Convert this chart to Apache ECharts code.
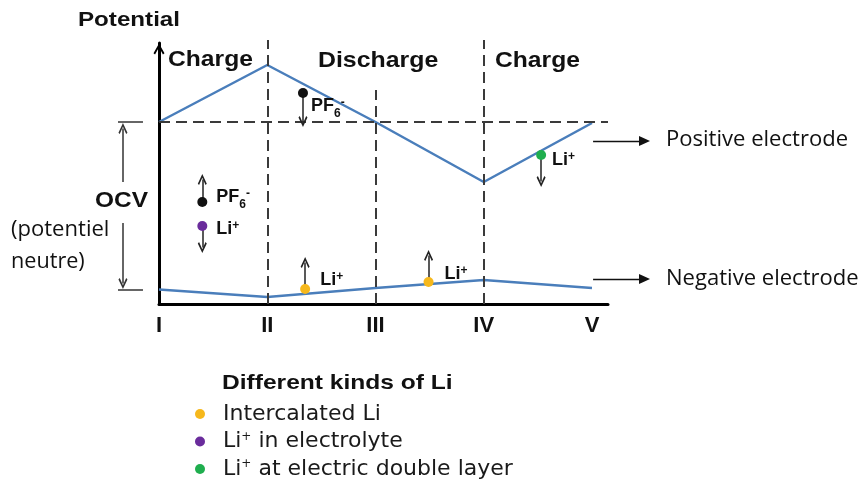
<!DOCTYPE html>
<html><head><meta charset="utf-8">
<script src="https://cdn.jsdelivr.net/npm/echarts@6/dist/echarts.min.js"></script>
<style>html,body{margin:0;padding:0;background:#fff}#c{width:861px;height:488px}</style>
</head><body><div id="c"></div>
<script>
// ---- data ----
const phaseLabels = ['I', 'II', 'III', 'IV', 'V'];
const phaseX = [0, 1, 2, 3, 4];
const positiveElectrode = [182, 239, 182, 122, 181];
const negativeElectrode = [14.5, 7, 16, 24, 16];
const intercalatedLi = [[1.35, 15], [2.49, 22]];
const electrolyteLi = [[0.40, 78]];
const doubleLayerLi = [[3.53, 149]];
const pf6Anions = [[1.33, 211], [0.40, 102]];
// ion movement arrows: [from, tip]
const ionArrows = [
  [[1.33, 211], [1.33, 177]],
  [[0.40, 102], [0.40, 130]],
  [[0.40, 78], [0.40, 51]],
  [[1.35, 15], [1.35, 47]],
  [[2.49, 22], [2.49, 54]],
  [[3.53, 149], [3.53, 117]]
];
const ocvLevel = 182;
const guideVerticalTops = [[1, 264], [2, 214], [3, 264]];
const ocvBracketBar = [-0.379, -0.148];
const ocvArrows = [[[-0.333, 122], [-0.333, 181]], [[-0.333, 81], [-0.333, 15]]];
const electrodePointerX = [4.01, 4.536];
const electrodePointerY = [163, 25];
const legendNames = ['Intercalated Li', 'Li+ in electrolyte', 'Li+ at electric double layer'];

// ---- layout ----
const W = 861, H = 488;
const G = { left: 159, top: 43, right: 608, bottom: 304 };
const unitX = (592 - 159) / 4;
const xMax = (G.right - G.left) / unitX;
const yMax = G.bottom - G.top;
const CHEV = 'path://M6,0 L12,10.5 L10.3,12 L6,4 L1.7,12 L0,10.5 Z';
const BLUE = '#4a7ebb';
const FONT = 'Liberation Sans';
const dot = { yellow: '#f6b81c', purple: '#6a2c9c', green: '#1fae4e', black: '#111' };

const chart = echarts.init(document.getElementById('c'), null, { renderer: 'canvas' });

function arrowItem(from, tip, opts) {
  const half = opts.half;
  const dx = tip[0] - from[0], dy = tip[1] - from[1];
  const len = Math.hypot(dx * (opts.sx || 1), dy) / (opts.sx || 1) * (opts.sx ? 1 : 1);
  const lenU = Math.hypot(dx, dy);
  const k = (lenU - half) / lenU;
  const end = [from[0] + dx * k, from[1] + dy * k];
  return [
    { coord: from, symbol: 'none', lineStyle: opts.line },
    { coord: end, symbol: opts.symbol || CHEV, symbolSize: opts.size || [9, 11] }
  ];
}
function segItem(a, b, line) {
  return [{ coord: a, symbol: 'none', lineStyle: line }, { coord: b, symbol: 'none' }];
}
const dashed = { color: '#3a3a3a', width: 2, type: [11, 6] };
const thin = { color: '#222', width: 1.5, type: 'solid' };
const bracket = { color: '#333', width: 1.5, type: 'solid' };
const pointer = { color: '#111', width: 1.3, type: 'solid' };

const guideData = [segItem([0, ocvLevel], [xMax, ocvLevel], dashed)]
  .concat(guideVerticalTops.map(p => segItem([p[0], 0], [p[0], p[1]], dashed)));
const ionArrowData = ionArrows.map(a => arrowItem(a[0], a[1], { half: 5.5, line: thin }));
const ocvData = [
  segItem([ocvBracketBar[0], ocvLevel], [ocvBracketBar[1], ocvLevel], bracket),
  segItem([ocvBracketBar[0], negativeElectrode[0]], [ocvBracketBar[1], negativeElectrode[0]], bracket)
].concat(ocvArrows.map(a => arrowItem(a[0], a[1], { half: 5.5, line: bracket })));
const pointerData = electrodePointerY.map(y => arrowItem([electrodePointerX[0], y], [electrodePointerX[1], y],
  { half: 5.5 / unitX, line: pointer, symbol: 'triangle', size: [10, 11] }));

const richLbl = {
  b: { fontFamily: FONT, fontWeight: 'bold', fontSize: 18, color: '#111', lineHeight: 22, verticalAlign: 'top' },
  sub: { fontFamily: FONT, fontWeight: 'bold', fontSize: 12, color: '#111', lineHeight: 12, verticalAlign: 'top', padding: [11, 0, 0, 0] },
  sup: { fontFamily: FONT, fontWeight: 'bold', fontSize: 12, color: '#111', lineHeight: 12, verticalAlign: 'top' }
};
const liLabel = '{b|Li}{sup|+}';
const pfLabel = '{b|PF}{sub|6}{sup|-}';

function scatterSeries(name, data, color, labelText, offsets) {
  return {
    type: 'scatter', name, xAxisIndex: 0, yAxisIndex: 0, z: 5,
    symbolSize: 10, itemStyle: { color, opacity: 1 },
    data: data.map((v, i) => ({
      value: v,
      label: { show: true, position: 'right', distance: 4, offset: offsets[i], formatter: labelText, rich: richLbl }
    })),
    emphasis: { disabled: true }, silent: true
  };
}

function txt(text, x, y, size, bold, sx, family) {
  return {
    type: 'text', x, y, scaleX: sx || 1, silent: true,
    style: { text, fontFamily: family || FONT, fontSize: size, fontWeight: bold ? 'bold' : 'normal',
             fill: '#111', align: 'left', verticalAlign: 'middle' }
  };
}

const option = {
  animation: false,
  backgroundColor: '#fff',
  grid: [
    { left: G.left, top: G.top, right: W - G.right, bottom: H - G.bottom },
    { left: 0, top: 0, right: 0, bottom: 0 }
  ],
  xAxis: [
    {
      type: 'value', gridIndex: 0, min: 0, max: xMax, interval: 1,
      axisLine: { show: true, onZero: false, lineStyle: { color: '#000', width: 3 } },
      axisTick: { show: false }, splitLine: { show: false },
      axisLabel: {
        margin: 11, color: '#111', fontFamily: FONT, fontWeight: 'bold', fontSize: 22,
        showMaxLabel: false,
        formatter: v => (Math.abs(v - Math.round(v)) < 1e-6 && phaseLabels[Math.round(v)]) || ''
      }
    },
    { type: 'value', gridIndex: 1, min: -G.left / unitX, max: (W - G.left) / unitX, show: false }
  ],
  yAxis: [
    {
      type: 'value', gridIndex: 0, min: 0, max: yMax,
      axisLine: { show: true, onZero: false, lineStyle: { color: '#000', width: 3 },
                  symbol: ['none', CHEV], symbolSize: [11, 12], symbolOffset: [0, -6] },
      axisTick: { show: false }, axisLabel: { show: false }, splitLine: { show: false }
    },
    { type: 'value', gridIndex: 1, min: -(H - G.bottom), max: G.bottom, show: false }
  ],
  legend: {
    orient: 'vertical', left: 195, top: 403, padding: 0, itemGap: 5.5,
    itemWidth: 36, itemHeight: 10, icon: 'circle', selectedMode: false,
    data: legendNames,
    formatter: n => n.replace('Li+', 'Li{sup|+}'),
    textStyle: {
      fontFamily: 'DejaVu Sans', fontSize: 22, color: '#1a1a1a', lineHeight: 22,
      rich: { sup: { fontFamily: 'DejaVu Sans', fontSize: 12, lineHeight: 12, verticalAlign: 'top', color: '#1a1a1a' } }
    }
  },
  series: [
    {
      type: 'line', xAxisIndex: 1, yAxisIndex: 1, data: [], z: 1, silent: true,
      markLine: { silent: true, animation: false, label: { show: false }, emphasis: { disabled: true },
        data: guideData.concat(ocvData, pointerData) }
    },
    {
      type: 'line', name: 'Positive electrode', xAxisIndex: 0, yAxisIndex: 0, z: 3, symbol: 'none',
      lineStyle: { color: BLUE, width: 2.5 }, silent: true,
      data: phaseX.map((x, i) => [x, positiveElectrode[i]])
    },
    {
      type: 'line', name: 'Negative electrode', xAxisIndex: 0, yAxisIndex: 0, z: 3, symbol: 'none',
      lineStyle: { color: BLUE, width: 2.5 }, silent: true,
      data: phaseX.map((x, i) => [x, negativeElectrode[i]])
    },
    {
      type: 'line', xAxisIndex: 0, yAxisIndex: 0, data: [], z: 4, silent: true,
      markLine: { silent: true, animation: false, label: { show: false }, emphasis: { disabled: true },
        data: ionArrowData }
    },
    scatterSeries(legendNames[0], intercalatedLi, dot.yellow, liLabel, [[6, -7], [7, -6]]),
    scatterSeries(legendNames[1], electrolyteLi, dot.purple, liLabel, [[5, 5]]),
    scatterSeries(legendNames[2], doubleLayerLi, dot.green, liLabel, [[2, 7]]),
    scatterSeries('PF6-', pf6Anions, dot.black, pfLabel, [[-1, 15], [5, -3]])
  ],
  graphic: [
    txt('Potential', 78, 20, 21, true, 1.15),
    txt('Charge', 168, 60, 22, true, 1.12),
    txt('Discharge', 318, 61, 22, true, 1.13),
    txt('Charge', 495, 61, 22, true, 1.12),
    txt('OCV', 95, 201, 22, true, 1.11),
    txt('(potentiel', 11, 230, 21, false, 1.05, 'Open Sans'),
    txt('neutre)', 11, 262, 21, false, 1.03, 'Open Sans'),
    txt('Positive electrode', 666, 140, 21, false, 1.05, 'Open Sans'),
    txt('Negative electrode', 666, 279, 21, false, 1.05, 'Open Sans'),
    txt('Different kinds of Li', 222, 383, 21, true, 1.17)
  ]
};
chart.setOption(option);
</script>
</body></html>
